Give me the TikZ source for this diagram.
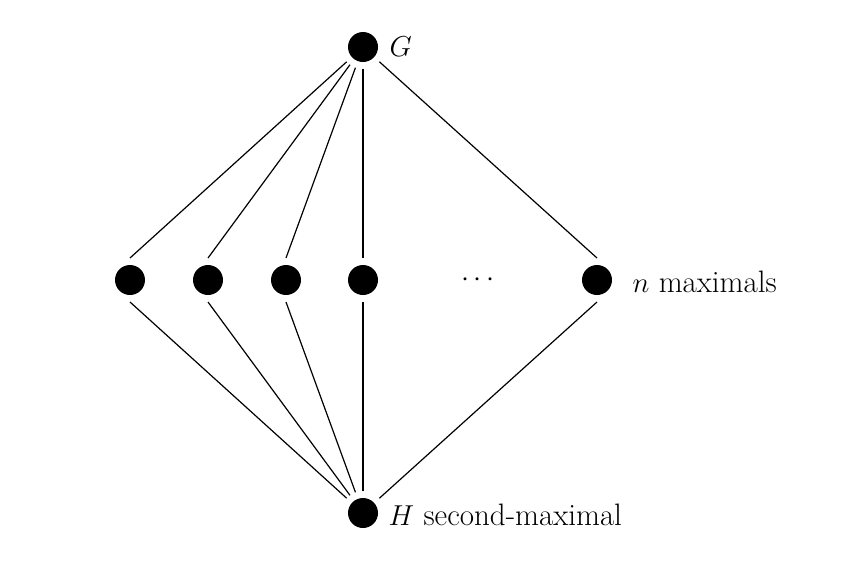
\documentclass[tikz,border=0pt]{standalone}
\begin{document}
\begin{tikzpicture}[x=0.5pt,y=-0.5pt,
  dot/.style={circle,fill=black,minimum size=15pt,inner sep=0pt,outer sep=3.5pt},
  lbl/.style={anchor=west,font=\fontsize{15.5}{18}\selectfont,inner sep=0pt},
  every path/.style={line width=0.6pt}]
\useasboundingbox (0,0) rectangle (858,579);
\node[dot] (G) at (363,47) {};
\node[dot] (a) at (130,280) {};
\node[dot] (b) at (208,280) {};
\node[dot] (c) at (286,280) {};
\node[dot] (d) at (363,280) {};
\node[dot] (e) at (597,280) {};
\node[dot] (H) at (363,513) {};
\node[font=\fontsize{15.5}{18}\selectfont] (dots) at (478,280) {$\cdots$};
\node[lbl] (Gl) at (389,47) {$G$};
\node[lbl] (el) at (632,282) {$n$ maximals};
\node[lbl] (Hl) at (388,515) {$H$ second-maximal};
\foreach \m in {a,b,c,d,e} {
  \draw (G) -- (\m.north);
  \draw (\m.south) -- (H);
}
\end{tikzpicture}
\end{document}
